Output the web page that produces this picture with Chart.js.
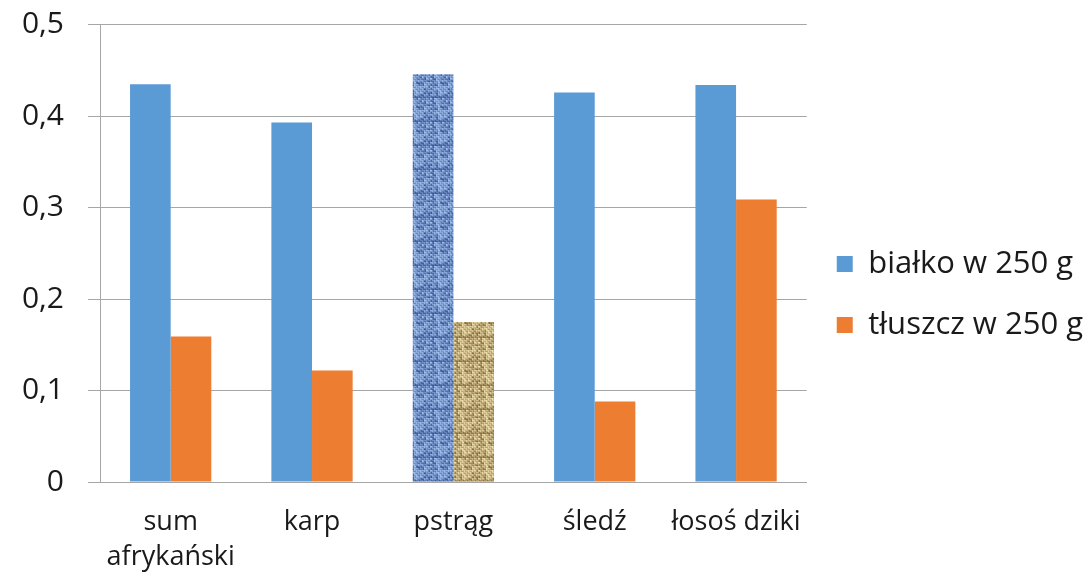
<!DOCTYPE html>
<html>
<head>
<meta charset="utf-8">
<script src="https://cdn.jsdelivr.net/npm/chart.js@4"></script>
<style>
  html, body { margin: 0; background: #fff; overflow: hidden; }
  #wrap { width: 1089px; height: 573px; }
  canvas { display: block; }
</style>
</head>
<body>
<div id="wrap"><canvas id="chart"></canvas></div>
<script>
const categories = [["sum", "afrykański"], "karp", "pstrąg", "śledź", "łosoś dziki"];
const bialko = [0.435, 0.393, 0.446, 0.426, 0.434];
const tluszcz = [0.159, 0.122, 0.175, 0.088, 0.309];
const yTickLabels = ["0", "0,1", "0,2", "0,3", "0,4", "0,5"];
const seriesNames = ["białko w 250 g", "tłuszcz w 250 g"];
const texturedCategory = "pstrąg";

const BLUE = "#5b9bd5";
const ORANGE = "#ed7d31";
const GRID = "#a6a6a6";
const TEXT = "#1a1a1a";
const font = "'Open Sans', 'Noto Sans', sans-serif";

// fabric-like tile (fixed hash, no randomness) for the textured bars
function fabric(dark, light) {
  const size = 24;
  const c = document.createElement("canvas");
  c.width = size;
  c.height = size;
  const g = c.getContext("2d");
  const img = g.createImageData(size, size);
  for (let y = 0; y < size; y++) {
    for (let x = 0; x < size; x++) {
      const cx = x >> 1, cy = y >> 1;
      const h = ((cx * 73856093) ^ (cy * 19349663)) >>> 0;
      const n = (h % 97) / 96;
      const thread = (cx + cy) % 2 === 0 ? (y % 2 === 0 ? 0.25 : 0) : (x % 2 === 0 ? 0.25 : 0);
      const t = Math.min(1, 0.15 + n * 0.6 + thread);
      const i = (y * size + x) * 4;
      for (let k = 0; k < 3; k++) img.data[i + k] = dark[k] + (light[k] - dark[k]) * t;
      img.data[i + 3] = 255;
    }
  }
  g.putImageData(img, 0, 0);
  return g.createPattern(c, "repeat");
}

function isTextured(ctx) {
  return ctx.type === "data" && categories[ctx.dataIndex] === texturedCategory;
}

function draw() {
  const denim = fabric([40, 70, 135], [165, 195, 240]);
  const burlap = fabric([120, 90, 45], [240, 225, 175]);

  new Chart(document.getElementById("chart"), {
    type: "bar",
    data: {
      labels: categories,
      datasets: [
        {
          label: seriesNames[0],
          data: bialko,
          backgroundColor: (ctx) => (isTextured(ctx) ? denim : BLUE),
        },
        {
          label: seriesNames[1],
          data: tluszcz,
          backgroundColor: (ctx) => (isTextured(ctx) ? burlap : ORANGE),
        },
      ],
    },
    options: {
      responsive: true,
      maintainAspectRatio: false,
      animation: false,
      categoryPercentage: 0.575,
      barPercentage: 1.0,
      layout: {
        padding: { left: 22, right: -4, top: 16, bottom: 0 },
      },
      plugins: {
        tooltip: { enabled: false },
        legend: {
          position: "right",
          maxWidth: 400,
          labels: {
            font: { family: font, size: 31 },
            color: TEXT,
            boxWidth: 16,
            boxHeight: 16,
            padding: 30,
          },
        },
      },
      scales: {
        x: {
          grid: { display: false, drawTicks: false },
          border: { display: true, color: GRID, width: 1 },
          ticks: {
            font: { family: font, size: 27, lineHeight: 1.3 },
            color: TEXT,
            padding: 23,
            maxRotation: 0,
            autoSkip: false,
          },
          afterFit: (scale) => {
            scale.height = 91;
          },
        },
        y: {
          min: 0,
          max: 0.5,
          grid: { color: GRID, lineWidth: 1, tickLength: 12 },
          border: { display: true, color: GRID, width: 1 },
          ticks: {
            stepSize: 0.1,
            font: { family: font, size: 30, lineHeight: 0.05 },
            color: TEXT,
            padding: 24,
            callback: (v, i) => yTickLabels[i],
          },
          afterFit: (scale) => {
            scale.width = 78;
          },
        },
      },
    },
  });
}

Promise.all([
  document.fonts.load("30px 'Open Sans'"),
  document.fonts.load("27px 'Open Sans'"),
  document.fonts.load("31px 'Open Sans'"),
]).then(draw, draw);
</script>
</body>
</html>
